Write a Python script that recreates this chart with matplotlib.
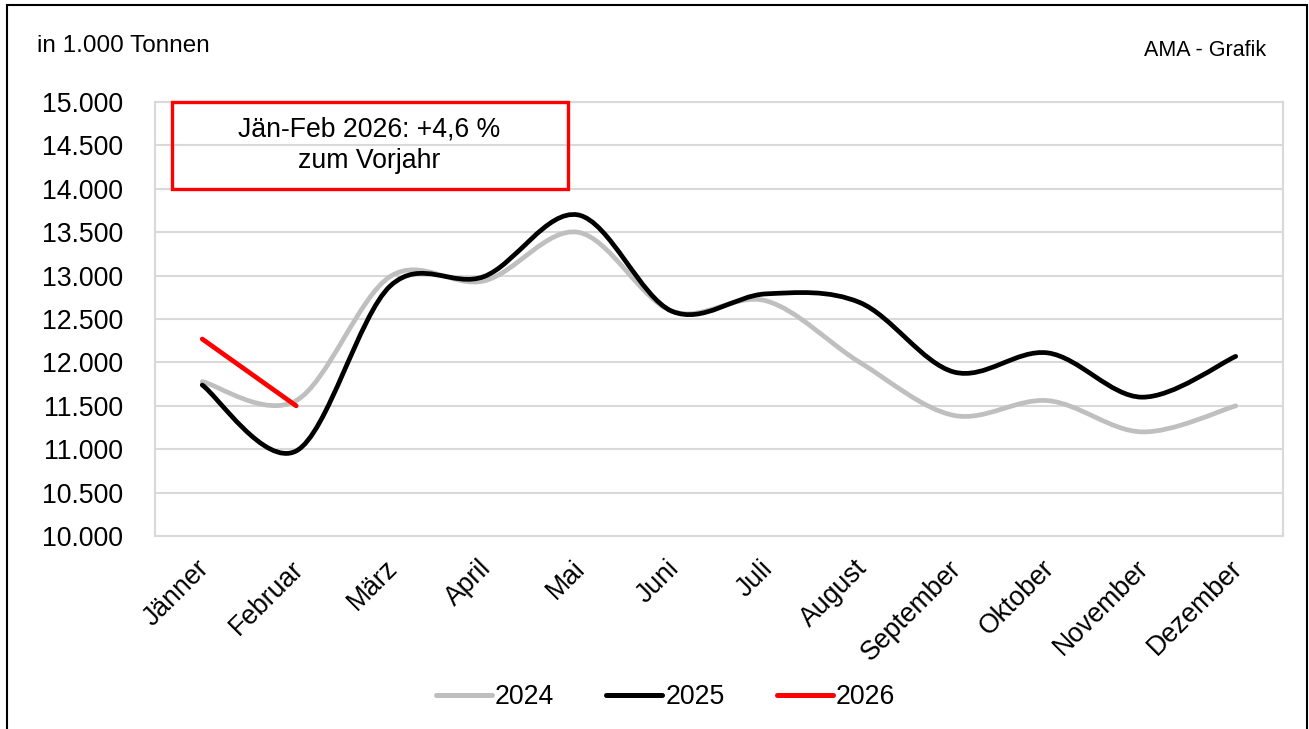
import matplotlib
matplotlib.use("Agg")
import matplotlib.pyplot as plt
from matplotlib.path import Path
from matplotlib.patches import PathPatch, Rectangle
from matplotlib.lines import Line2D
from matplotlib.ticker import FuncFormatter
from matplotlib.transforms import ScaledTranslation

plt.rcParams['font.family'] = ['Liberation Sans', 'DejaVu Sans']

months = ["Jänner", "Februar", "März", "April", "Mai", "Juni", "Juli",
          "August", "September", "Oktober", "November", "Dezember"]
v2024 = [11780, 11560, 12990, 12940, 13500, 12590, 12710, 12000, 11390, 11560, 11200, 11500]
v2025 = [11740, 10980, 12880, 12990, 13700, 12590, 12790, 12690, 11890, 12110, 11600, 12070]
v2026 = [12270, 11500]
years = ["2024", "2025", "2026"]
colors = ["#bfbfbf", "#000000", "#ff0000"]


def smooth_path(ys):
    # excel-like smoothed line: bezier segments through each point
    xs = list(range(len(ys)))
    pts = list(zip(xs, ys))
    if len(pts) == 2:
        return Path(pts, [Path.MOVETO, Path.LINETO])
    verts = [pts[0]]
    codes = [Path.MOVETO]
    n = len(pts)
    for i in range(n - 1):
        p0 = pts[i - 1] if i > 0 else pts[i]
        p1 = pts[i]
        p2 = pts[i + 1]
        p3 = pts[i + 2] if i + 2 < n else pts[i + 1]
        c1 = (p1[0] + (p2[0] - p0[0]) / 6, p1[1] + (p2[1] - p0[1]) / 6)
        c2 = (p2[0] - (p3[0] - p1[0]) / 6, p2[1] - (p3[1] - p1[1]) / 6)
        verts += [c1, c2, p2]
        codes += [Path.CURVE4] * 3
    return Path(verts, codes)


fig = plt.figure(figsize=(13.09, 7.29), dpi=100)
ax = fig.add_axes([0.1186, 0.2647, 0.8613, 0.5953])

for ys, c, z in zip([v2024, v2025, v2026], colors, [2, 3, 4]):
    ax.add_patch(PathPatch(smooth_path(ys), fill=False, edgecolor=c, lw=3.4,
                           capstyle='round', joinstyle='round', zorder=z))

fs = 19.2
ax.set_xlim(-0.5, 11.5)
ax.set_ylim(10000, 15000)
ax.set_yticks(range(10000, 15001, 500))
ax.yaxis.set_major_formatter(FuncFormatter(lambda v, p: f"{int(v):,}".replace(",", ".")))
ax.set_xticks(range(12))
ax.set_xticklabels(months, rotation=45, ha='right', va='top', rotation_mode='anchor')
ax.tick_params(axis='both', length=0, labelsize=fs)
ax.tick_params(axis='y', pad=23)
ax.tick_params(axis='x', pad=14)
shift = ScaledTranslation(-6 / 100, 0, fig.dpi_scale_trans)
for lab in ax.get_xticklabels():
    lab.set_transform(lab.get_transform() + shift)
ax.grid(axis='y', color='#d9d9d9', lw=1.5, zorder=0)
ax.set_axisbelow(True)
for s in ax.spines.values():
    s.set_color('#d9d9d9')
    s.set_linewidth(1.5)

# annotation box
ax.add_patch(Rectangle((-0.325, 14000), 4.215, 1000, fill=False, edgecolor='#ff0000',
                       lw=2.4, clip_on=False, zorder=5))
ax.text(1.78, 14500, "Jän-Feb 2026: +4,6 %\nzum Vorjahr", ha='center', va='center',
        fontsize=fs, linespacing=1.3, zorder=6)

fig.text(37 / 1309, 1 - 46 / 729, "in 1.000 Tonnen", fontsize=17.5, va='center', ha='left')
fig.text(1266 / 1309, 1 - 50 / 729, "AMA - Grafik", fontsize=15.5, va='center', ha='right')

handles = [Line2D([], [], color=c, lw=3.6, solid_capstyle='round') for c in colors]
fig.legend(handles, years, loc='center', bbox_to_anchor=(0.5084, 0.044), ncol=3,
           frameon=False, fontsize=fs, handlelength=2.1, handletextpad=0.12,
           columnspacing=1.95)

fig.patches.append(Rectangle((6.7 / 1309, -0.01), 1300 / 1309, 1 - 5 / 729 + 0.01,
                             transform=fig.transFigure, fill=False, edgecolor='black',
                             lw=1.5))

fig.savefig("out.png", dpi=100)
